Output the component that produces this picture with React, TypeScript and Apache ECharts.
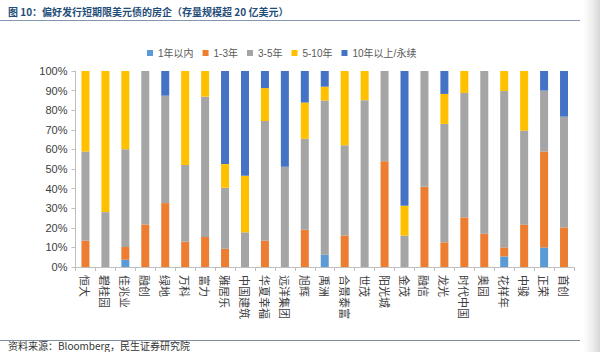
import React, { useEffect, useRef } from "react";
import * as echarts from "echarts";

const categories = ["恒大", "碧桂园", "佳兆业", "融创", "绿地", "万科", "富力", "雅居乐", "中国建筑", "华夏幸福", "远洋集团", "旭辉", "禹洲", "合景泰富", "世茂", "阳光城", "金茂", "融信", "龙光", "时代中国", "奥园", "花样年", "中骏", "正荣", "首创"];
const within1 = [0, 0, 3.7, 0, 0, 0, 0, 0, 0, 0, 0, 0, 6.3, 0, 0, 0, 0, 0, 0, 0, 0, 5.4, 0, 10, 0];
const y1to3 = [13.4, 0, 6.5, 21.7, 32.6, 12.9, 15.3, 9.3, 0, 13.4, 0, 19, 0, 16.1, 0, 54, 0, 40.9, 12.6, 25.3, 17, 4.6, 21.6, 48.9, 20.2];
const y3to5 = [45.5, 28, 49.9, 78.3, 54.8, 39.2, 71.6, 31.1, 17.7, 61.1, 51.1, 46.4, 78.6, 46, 85.1, 46, 16, 59.1, 60.4, 63.5, 83, 79.8, 48, 31.1, 56.5];
const y5to10 = [41.1, 72, 39.9, 0, 0, 47.9, 13.1, 12.1, 28.8, 16.8, 0, 18.5, 7.1, 37.9, 14.9, 0, 15.2, 0, 15.3, 11.2, 0, 10.2, 30.4, 0, 0];
const over10 = [0, 0, 0, 0, 12.6, 0, 0, 47.5, 53.5, 8.7, 48.9, 16.1, 8, 0, 0, 0, 68.8, 0, 11.7, 0, 0, 0, 0, 10, 23.3];

const seriesNames = ["1年以内", "1-3年", "3-5年", "5-10年", "10年以上/永续"];
const seriesColors = ["#5B9BD5", "#ED7D31", "#A5A5A5", "#FFC000", "#4472C4"];
const seriesData = [within1, y1to3, y3to5, y5to10, over10];

const titleText = "图 10：偏好发行短期限美元债的房企（存量规模超 20 亿美元）";
const sourceText = "资料来源：Bloomberg，民生证券研究院";

export default function App() {
  const ref = useRef<HTMLDivElement>(null);
  useEffect(() => {
    if (!ref.current) return;
    const chart = echarts.init(ref.current, null, { renderer: "svg" });
    chart.setOption({
      animation: false,
      backgroundColor: "#ffffff",
      textStyle: { fontFamily: "'Noto Sans CJK SC', 'Liberation Sans', sans-serif" },
      grid: { left: 75.5, right: 26, top: 71, bottom: 85, containLabel: false },
      legend: {
        top: 43,
        left: 142,
        icon: "rect",
        itemWidth: 6,
        itemHeight: 6,
        itemGap: 9,
        textStyle: { fontSize: 10, color: "#595959", fontFamily: "'Liberation Sans', 'Noto Sans CJK SC', sans-serif" },
        data: seriesNames,
      },
      xAxis: {
        type: "category",
        data: categories,
        axisLine: { lineStyle: { color: "#BFBFBF" } },
        axisTick: { show: true, alignWithLabel: false, length: 4, lineStyle: { color: "#BFBFBF" } },
        axisLabel: {
          rotate: -90,
          interval: 0,
          fontSize: 11,
          color: "#404040",
          margin: 8,
          fontFamily: "'Noto Sans CJK SC', sans-serif",
        },
      },
      yAxis: {
        type: "value",
        min: 0,
        max: 100,
        interval: 10,
        axisLine: { show: true, lineStyle: { color: "#BFBFBF" } },
        axisTick: { show: true, length: 4, lineStyle: { color: "#BFBFBF" } },
        splitLine: { show: false },
        axisLabel: {
          formatter: "{value}%",
          fontSize: 11,
          color: "#404040",
          margin: 8,
          fontFamily: "'Liberation Sans', sans-serif",
        },
      },
      series: seriesNames.map((name, i) => ({
        name,
        type: "bar",
        stack: "total",
        barWidth: 8,
        itemStyle: { color: seriesColors[i] },
        data: seriesData[i],
      })),
      graphic: [
        {
          type: "text",
          left: 8,
          top: 6,
          style: {
            text: titleText,
            fontSize: 10,
            fontWeight: "bold",
            fill: "#1F4E79",
            fontFamily: "'Noto Sans CJK SC', sans-serif",
          },
        },
        {
          type: "line",
          shape: { x1: 0, y1: 20.5, x2: 580, y2: 20.5 },
          style: { stroke: "#8496B0", lineWidth: 1 },
        },
        {
          type: "line",
          shape: { x1: 0, y1: 340.5, x2: 580, y2: 340.5 },
          style: { stroke: "#7F8C9F", lineWidth: 1 },
        },
        {
          type: "text",
          left: 8,
          top: 340,
          style: {
            text: sourceText,
            fontSize: 10,
            fill: "#333333",
            fontFamily: "'Noto Sans CJK SC', sans-serif",
          },
        },
        {
          type: "rect",
          shape: { x: 582, y: 0, width: 18, height: 352 },
          style: {
            fill: new echarts.graphic.LinearGradient(0, 0, 1, 0, [
              { offset: 0, color: "rgba(235,235,235,0)" },
              { offset: 1, color: "rgba(215,215,215,1)" },
            ]),
          },
          silent: true,
        },
      ],
    });
    return () => chart.dispose();
  }, []);
  return <div ref={ref} style={{ position: "fixed", left: 0, top: 0, width: 600, height: 352 }} />;
}
